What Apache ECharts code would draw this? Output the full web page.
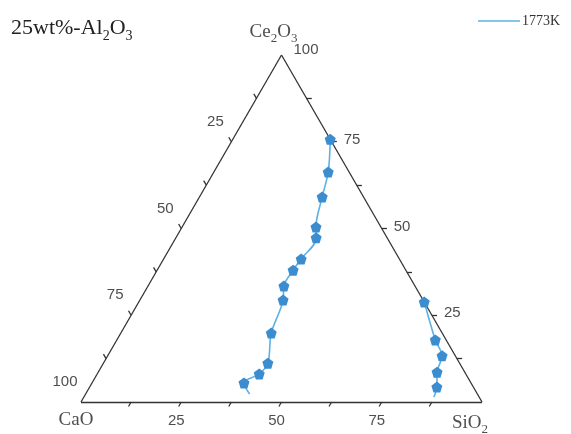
<!DOCTYPE html>
<html><head><meta charset="utf-8">
<script src="https://cdn.jsdelivr.net/npm/echarts@6/dist/echarts.min.js"></script>
<style>html,body{margin:0;padding:0;background:#fff}#c{width:571px;height:434px}</style>
</head><body><div id="c"></div>
<script>
// Ternary compositions [CaO, SiO2, Ce2O3] (wt%, normalized)
const curveLeft = [
  [0.0, 24.3, 75.7], [5.2, 28.5, 66.3], [10.3, 30.6, 59.1], [16.2, 33.4, 50.4],
  [17.7, 35.0, 47.3], [24.5, 34.3, 41.2], [28.1, 33.9, 38.0], [32.7, 33.9, 33.4],
  [34.9, 35.7, 29.4], [42.6, 37.5, 19.9], [47.8, 41.0, 11.2], [51.5, 40.4, 8.1],
  [56.6, 37.9, 5.5]
];
const curveLeftEnd = [56.8, 40.9, 2.3];
const curveRight = [
  [0.0, 71.2, 28.8], [2.7, 79.4, 17.9], [3.3, 83.4, 13.3], [6.9, 84.5, 8.6], [9.1, 86.6, 4.3]
];
const curveRightEnd = [11.3, 87.3, 1.4];
const bottomLabels = [25, 50, 75];        // SiO2
const rightLabels = [25, 50, 75, 100];    // Ce2O3
const leftLabels = [25, 50, 75, 100];     // CaO
const tickStep = 12.5;
const seriesName = '1773K';

const H = Math.sqrt(3) / 2;
function tern(p) {
  const s = p[0] + p[1] + p[2];
  const si = p[1] / s, ce = p[2] / s;
  return [si + ce / 2, ce * H];
}
const vCaO = tern([100, 0, 0]), vSiO2 = tern([0, 100, 0]), vCe = tern([0, 0, 100]);

const L = 0.013;
const frame = [
  {coords: [vCaO, vSiO2]}, {coords: [vSiO2, vCe]}, {coords: [vCe, vCaO]}
];
const ticks = [];
for (let v = tickStep; v < 100; v += tickStep) {
  const b = tern([100 - v, v, 0]);
  ticks.push({coords: [b, [b[0] - 0.5 * L, b[1] - H * L]]});
  const r = tern([0, 100 - v, v]);
  ticks.push({coords: [r, [r[0] + L, r[1]]]});
  const l = tern([v, 0, 100 - v]);
  ticks.push({coords: [l, [l[0] - 0.5 * L, l[1] + H * L]]});
}

const lineColor = '#5cb2e6', markColor = '#3c8dd0';
const pent = 'path://M0,-1L0.951,-0.309L0.588,0.809L-0.588,0.809L-0.951,-0.309Z';
function curveData(pts, end) {
  const d = pts.map(p => ({value: tern(p)}));
  d.push({value: tern(end), symbol: 'none'});
  return d;
}
const numFont = {fontFamily: 'Liberation Sans', fontSize: 15, color: '#222'};
const serif = 'Liberation Serif';
const rich = {
  n: {fontFamily: serif, fontSize: 19, color: '#222', lineHeight: 22, verticalAlign: 'top'},
  s: {fontFamily: serif, fontSize: 13, color: '#222', lineHeight: 13, verticalAlign: 'bottom'}
};

const chart = echarts.init(document.getElementById('c'));
chart.setOption({
  animation: false,
  title: {
    text: '{n|25wt%-Al}{s|2}{n|O}{s|3}', left: 6, top: 12,
    textStyle: {fontWeight: 'normal', rich: {
      n: {fontFamily: serif, fontSize: 22, fontWeight: 'normal', color: '#222', lineHeight: 26, verticalAlign: 'top'},
      s: {fontFamily: serif, fontSize: 14, fontWeight: 'normal', color: '#222', lineHeight: 14, verticalAlign: 'bottom'}
    }}
  },
  legend: {
    data: [{name: seriesName, icon: 'rect', itemStyle: {color: lineColor}}],
    left: 473, top: 9, itemWidth: 42, itemHeight: 1.5, itemGap: 0,
    textStyle: {fontFamily: serif, fontSize: 14, color: '#333', padding: [0, 0, 0, -3]}
  },
  grid: {left: 81, top: 55, width: 401, height: 347},
  xAxis: {type: 'value', min: 0, max: 1, show: false},
  yAxis: {type: 'value', min: 0, max: H, show: false},
  series: [
    {type: 'lines', coordinateSystem: 'cartesian2d', clip: false, silent: true,
     lineStyle: {color: '#333', width: 1.3, opacity: 1}, data: frame.concat(ticks)},
    {type: 'scatter', symbolSize: 0, silent: true, clip: false,
     label: {show: true, position: 'bottom', distance: 11, offset: [-5, 0], formatter: '{b}', ...numFont},
     data: bottomLabels.map(v => ({name: String(v), value: tern([100 - v, v, 0])}))},
    {type: 'scatter', symbolSize: 0, silent: true, clip: false,
     label: {show: true, position: 'right', distance: 12, offset: [0, -2], formatter: '{b}', ...numFont},
     data: rightLabels.map(v => ({name: String(v), value: tern([0, 100 - v, v]),
       label: v === 100 ? {offset: [0, -5]} : undefined}))},
    {type: 'scatter', symbolSize: 0, silent: true, clip: false,
     label: {show: true, position: 'inside', offset: [-16, -20], formatter: '{b}', ...numFont},
     data: leftLabels.map(v => ({name: String(v), value: tern([v, 0, 100 - v])}))},
    {type: 'scatter', symbolSize: 0, silent: true, clip: false,
     label: {show: true, position: 'inside', formatter: p => p.data.t, rich: rich},
     data: [
       {value: vCaO, t: '{n|CaO}', label: {offset: [-5, 20]}},
       {value: vSiO2, t: '{n|SiO}{s|2}', label: {offset: [-12, 23]}},
       {value: vCe, t: '{n|Ce}{s|2}{n|O}{s|3}', label: {offset: [-8, -21]}}
     ]},
    {name: seriesName, type: 'line', smooth: 0.35, clip: false,
     symbol: pent, symbolSize: 11, showSymbol: true,
     lineStyle: {color: lineColor, width: 1.6}, itemStyle: {color: markColor},
     data: curveData(curveLeft, curveLeftEnd)},
    {name: seriesName, type: 'line', smooth: 0.3, clip: false,
     symbol: pent, symbolSize: 11, showSymbol: true,
     lineStyle: {color: lineColor, width: 1.6}, itemStyle: {color: markColor},
     data: curveData(curveRight, curveRightEnd)}
  ]
});
</script></body></html>
